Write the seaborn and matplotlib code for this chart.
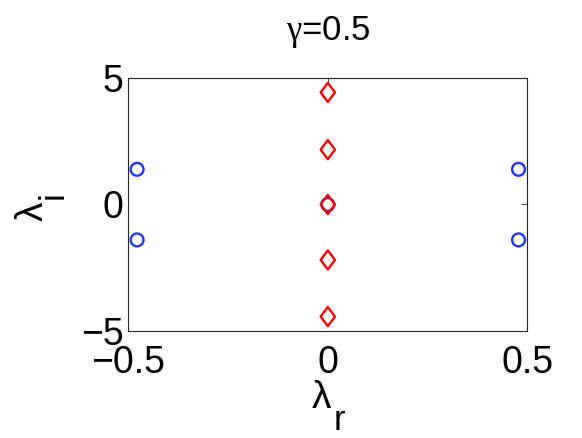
import numpy as np
import pandas as pd
import matplotlib
matplotlib.use("Agg")
import matplotlib.pyplot as plt
import seaborn as sns
from matplotlib.path import Path

sns.set_style("white")
plt.rcParams['font.family'] = ['Liberation Sans', 'DejaVu Sans']
plt.rcParams['text.color'] = 'black'
plt.rcParams['axes.labelcolor'] = 'black'
plt.rcParams['xtick.color'] = 'black'
plt.rcParams['ytick.color'] = 'black'
plt.rcParams['mathtext.fontset'] = 'custom'
plt.rcParams['mathtext.rm'] = 'Liberation Serif'
plt.rcParams['mathtext.it'] = 'Liberation Serif:italic'

# Data
circle_re = [-0.478, -0.478, 0.0, 0.478, 0.478]
circle_im = [1.39, -1.40, 0.0, 1.39, -1.40]
diamond_re = [0.0, 0.0, 0.0, 0.0, 0.0]
diamond_im = [4.43, 2.17, 0.0, -2.19, -4.43]
title = r"$\mathrm{\gamma}$=0.5"
xticks = [-0.5, 0, 0.5]
yticks = [-5, 0, 5]
xticklabels = ["\u22120.5", "0", "0.5"]
yticklabels = ["\u22125", "0", "5"]

df_c = pd.DataFrame({"re": circle_re, "im": circle_im})
df_d = pd.DataFrame({"re": diamond_re, "im": diamond_im})

W, H = 582, 438
fig = plt.figure(figsize=(W / 100, H / 100), dpi=100)
ax = fig.add_axes([128.3 / W, 1 - 331 / H, (527.3 - 128.3) / W, (331 - 78) / H])

diamond = Path([(0, 1), (0.75, 0), (0, -1), (-0.75, 0), (0, 1)],
               [Path.MOVETO, Path.LINETO, Path.LINETO, Path.LINETO, Path.CLOSEPOLY])

sns.scatterplot(data=df_c, x="re", y="im", ax=ax, marker="o", s=85,
                facecolors="none", edgecolor="#2233ff", linewidth=1.7, zorder=3)
sns.scatterplot(data=df_d, x="re", y="im", ax=ax, marker=diamond, s=190,
                facecolors="none", edgecolor="#ff0000", linewidth=1.7, zorder=4)

ax.set_xlim(-0.5, 0.5)
ax.set_ylim(-5, 5)
ax.set_xticks(xticks)
ax.set_xticklabels(xticklabels)
ax.set_yticks(yticks)
ax.set_yticklabels(yticklabels)
ax.tick_params(axis='both', direction='in', length=4, width=0.6, labelsize=27,
               top=True, right=True, color='#333333')
ax.tick_params(axis='x', pad=10)
ax.tick_params(axis='y', pad=3.5)
for sp in ax.spines.values():
    sp.set_color('#222222')
    sp.set_linewidth(0.8)
    sp.set_visible(True)

ax.set_title(title, fontsize=25, pad=27.4)
ax.set_xlabel("")
ax.set_ylabel("")


def ftext(x, y, s, **kw):
    fig.text(x / W, 1 - y / H, s, rotation_mode='anchor', **kw)


# x label: lambda with subscript r
ftext(312, 408, "λ", fontsize=28, ha='left', va='baseline')
ftext(334, 430, "r", fontsize=25, ha='left', va='baseline')
# y label: lambda with subscript i (rotated)
ftext(43, 221, "λ", fontsize=28, ha='left', va='baseline', rotation=90)
ftext(63, 199, "i", fontsize=25, ha='left', va='baseline', rotation=90)

fig.savefig("out.png", dpi=100)
